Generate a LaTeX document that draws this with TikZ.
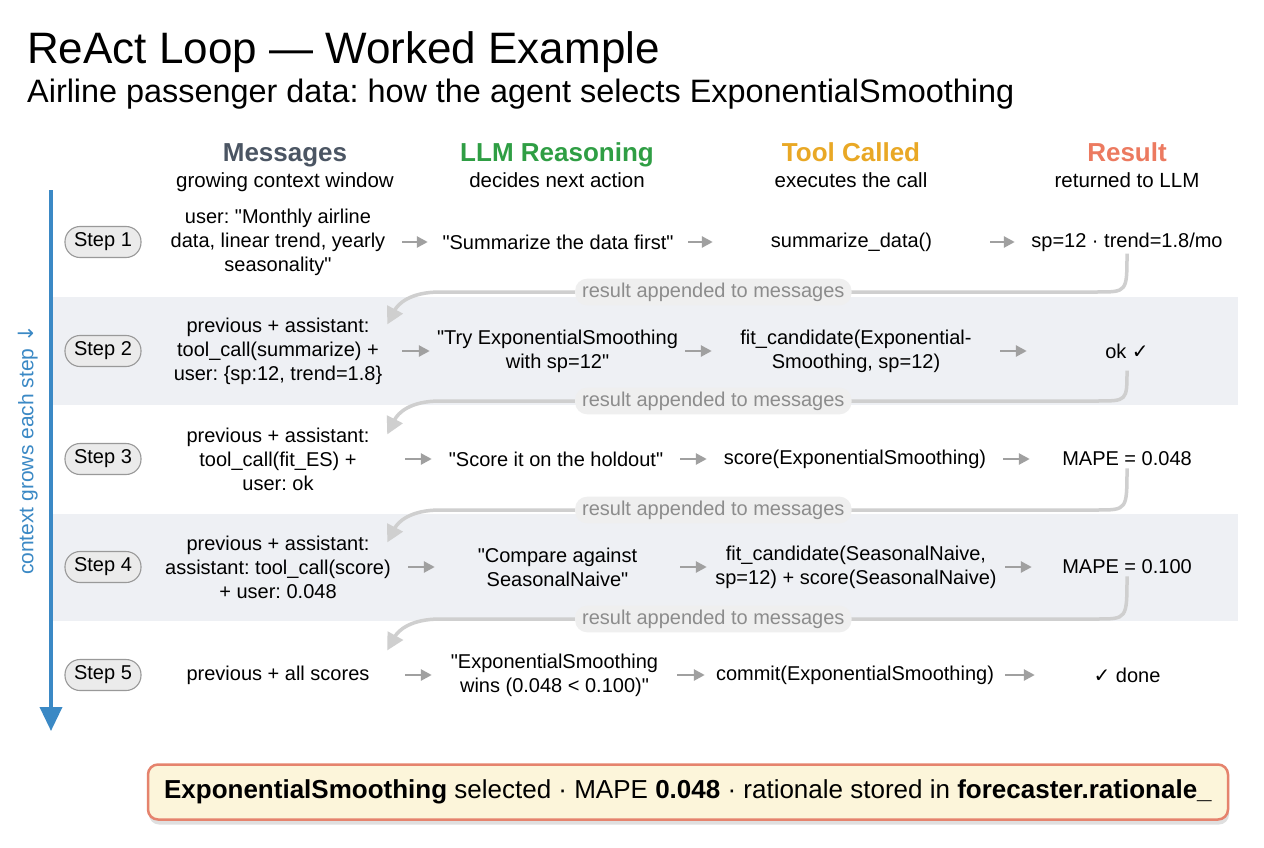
\documentclass[tikz,border=0pt]{standalone}
\usepackage{fontspec}
\setmainfont{Liberation Sans}[Ligatures=TeXOff]
\newfontfamily\symf{DejaVu Sans}
\usetikzlibrary{arrows.meta,shadows}
\definecolor{slatec}{HTML}{4B5563}
\definecolor{greenc}{HTML}{2F9E44}
\definecolor{amberc}{HTML}{E9A825}
\definecolor{salmonc}{HTML}{EC7A60}
\definecolor{bluec}{HTML}{3B89C5}
\definecolor{bandc}{HTML}{EEF0F4}
\definecolor{flowc}{HTML}{A0A0A0}
\definecolor{retc}{HTML}{CFCFCF}
\definecolor{pillc}{HTML}{EFEFEF}
\definecolor{pilltext}{HTML}{8C8C8C}
\definecolor{creamc}{HTML}{FCF5DA}
\definecolor{boxedge}{HTML}{E5836D}
\newcommand\bodyfont{\fontsize{20}{24}\selectfont}
\newcommand\qq{\char34\relax}
\frenchspacing
\tikzset{
  cell/.style={align=center, inner xsep=0pt, inner ysep=2pt, font=\bodyfont},
  stepbox/.style={draw=black!40, fill=black!8, line width=1.1pt, rounded corners=15pt,
    minimum width=76pt, minimum height=31pt, inner sep=0pt, font=\bodyfont},
  flow/.style={draw=flowc, line width=2.6pt, -{Triangle[length=11pt,width=11pt]}},
  ret/.style={draw=retc, line width=3.5pt, -{Triangle[length=17pt,width=17pt]}},
  retlabel/.style={fill=pillc, text=pilltext, rounded corners=12pt, inner xsep=7pt,
    inner ysep=4pt, font=\bodyfont},
  head/.style={font=\fontsize{26}{30}\selectfont\bfseries, anchor=base, inner sep=0pt},
  subhead/.style={font=\fontsize{20.5}{24}\selectfont, anchor=base, inner sep=0pt},
}
\begin{document}
\begin{tikzpicture}[x=1pt,y=-1pt]
\useasboundingbox (0,0) rectangle (1264,848);
\fill[white] (0,0) rectangle (1264,848);

% title
\node[anchor=base west, inner sep=0pt, font=\fontsize{44}{50}\selectfont] (title) at (27,64) {ReAct Loop — Worked Example};
\node[anchor=base west, inner sep=0pt, font=\fontsize{32.4}{36}\selectfont] (subtitle) at (27,103) {Airline passenger data: how the agent selects ExponentialSmoothing};

% bands
\fill[bandc] (52,297) rectangle (1238,405);
\fill[bandc] (52,514) rectangle (1238,621);

% column headers
\node[head, text=slatec] (hm) at (285,161) {Messages};
\node[subhead] (hms) at (285,187) {growing context window};
\node[head, text=greenc] (hl) at (557,161) {LLM Reasoning};
\node[subhead] (hls) at (557,187) {decides next action};
\node[head, text=amberc] (ht) at (851,161) {Tool Called};
\node[subhead] (hts) at (851,187) {executes the call};
\node[head, text=salmonc] (hr) at (1127,161) {Result};
\node[subhead] (hrs) at (1127,187) {returned to LLM};

% context arrow
\coordinate (ctop) at (51,190);
\coordinate (cbot) at (51,731);
\draw[bluec, line width=3.6pt, -{Triangle[length=24pt,width=22pt]}] (ctop) -- (cbot);
\node[rotate=90, text=bluec, font=\fontsize{21}{24}\selectfont] (ctx) at (28,450) {context grows each step {\symf ↓}};

% steps
\node[stepbox] (s1) at (103,242) {Step 1};
\node[stepbox] (s2) at (103,351) {Step 2};
\node[stepbox] (s3) at (103,459) {Step 3};
\node[stepbox] (s4) at (103,567) {Step 4};
\node[stepbox] (s5) at (103,675) {Step 5};

% row 1
\node[cell, minimum width=248pt] (m1) at (278,242) {user: \qq Monthly airline\\data, linear trend, yearly\\seasonality\qq};
\node[cell, minimum width=260pt] (l1) at (558,242) {\qq Summarize the data first\qq};
\node[cell, minimum width=277pt] (t1) at (851.5,242) {summarize\_data()};
\node[cell, minimum width=224pt] (r1) at (1127,242) {sp=12 · trend=1.8/mo};
\draw[flow] (m1.east) -- (l1.west);
\draw[flow] (l1.east) -- (t1.west);
\draw[flow] (t1.east) -- (r1.west);

% row 2
\node[cell, minimum width=248pt] (m2) at (278,351) {previous + assistant:\\tool\_call(summarize) +\\user: \{sp:12, trend=1.8\}};
\node[cell, minimum width=255pt] (l2) at (557.5,351) {\qq Try ExponentialSmoothing\\with sp=12\qq};
\node[cell, minimum width=288pt] (t2) at (856,351) {fit\_candidate(Exponential-\\Smoothing, sp=12)};
\node[cell, minimum width=200pt] (r2) at (1127,351) {ok {\symf ✓}};
\draw[flow] (m2.east) -- (l2.west);
\draw[flow] (l2.east) -- (t2.west);
\draw[flow] (t2.east) -- (r2.west);

% row 3
\node[cell, minimum width=254pt] (m3) at (278,459) {previous + assistant:\\tool\_call(fit\_ES) +\\user: ok};
\node[cell, minimum width=248pt] (l3) at (556,459) {\qq Score it on the holdout\qq};
\node[cell, minimum width=296pt] (t3) at (855,459) {score(ExponentialSmoothing)};
\node[cell, minimum width=194pt] (r3) at (1127,459) {MAPE = 0.048};
\draw[flow] (m3.east) -- (l3.west);
\draw[flow] (l3.east) -- (t3.west);
\draw[flow] (t3.east) -- (r3.west);

% row 4
\node[cell, minimum width=260pt] (m4) at (278,567) {previous + assistant:\\assistant: tool\_call(score)\\+ user: 0.048};
\node[cell, minimum width=245pt] (l4) at (557.5,567) {\qq Compare against\\SeasonalNaive\qq};
\node[cell, minimum width=298pt] (t4) at (856,567) {fit\_candidate(SeasonalNaive,\\sp=12) + score(SeasonalNaive)};
\node[cell, minimum width=190pt] (r4) at (1127,567) {MAPE = 0.100};
\draw[flow] (m4.east) -- (l4.west);
\draw[flow] (l4.east) -- (t4.west);
\draw[flow] (t4.east) -- (r4.west);

% row 5
\node[cell, minimum width=254pt] (m5) at (278,675) {previous + all scores};
\node[cell, minimum width=245pt] (l5) at (554.5,675) {\qq ExponentialSmoothing\\wins (0.048 < 0.100)\qq};
\node[cell, minimum width=300pt] (t5) at (855,675) {commit(ExponentialSmoothing)};
\node[cell, minimum width=184pt] (r5) at (1127,675) {{\symf ✓} done};
\draw[flow] (m5.east) -- (l5.west);
\draw[flow] (l5.east) -- (t5.west);
\draw[flow] (t5.east) -- (r5.west);

% return arrows
\draw[ret] (r1.south) .. controls (1127,292) .. (1097,292) -- node[retlabel, pos=0.584] (lab1) {result appended to messages} (440,292) .. controls (410,292) and (398,304) .. ([xshift=-15pt,yshift=-9pt]m2.north east);
\draw[ret] ([yshift=-10pt]r2.south) .. controls (1127,401) .. (1097,401) -- node[retlabel, pos=0.584] (lab2) {result appended to messages} (440,401) .. controls (410,401) and (398,413) .. ([xshift=-18pt,yshift=-9pt]m3.north east);
\draw[ret] (r3.south) .. controls (1127,510) .. (1097,510) -- node[retlabel, pos=0.584] (lab3) {result appended to messages} (440,510) .. controls (410,510) and (398,522) .. ([xshift=-21pt,yshift=-9pt]m4.north east);
\draw[ret] (r4.south) .. controls (1127,619) .. (1097,619) -- node[retlabel, pos=0.584] (lab4) {result appended to messages} (440,619) .. controls (410,619) and (398,631) .. ([xshift=-18pt,yshift=13pt]m5.north east);

% summary
\node[draw=boxedge, fill=creamc, line width=2.5pt, rounded corners=10pt, minimum width=1080pt,
  minimum height=55pt, font=\fontsize{26}{30}\selectfont,
  drop shadow={opacity=0.25, shadow xshift=1pt, shadow yshift=-5pt}] (summary) at (688,792)
  {\textbf{ExponentialSmoothing} selected · MAPE \textbf{0.048} · rationale stored in \textbf{forecaster.rationale\_}};
\end{tikzpicture}
\end{document}
